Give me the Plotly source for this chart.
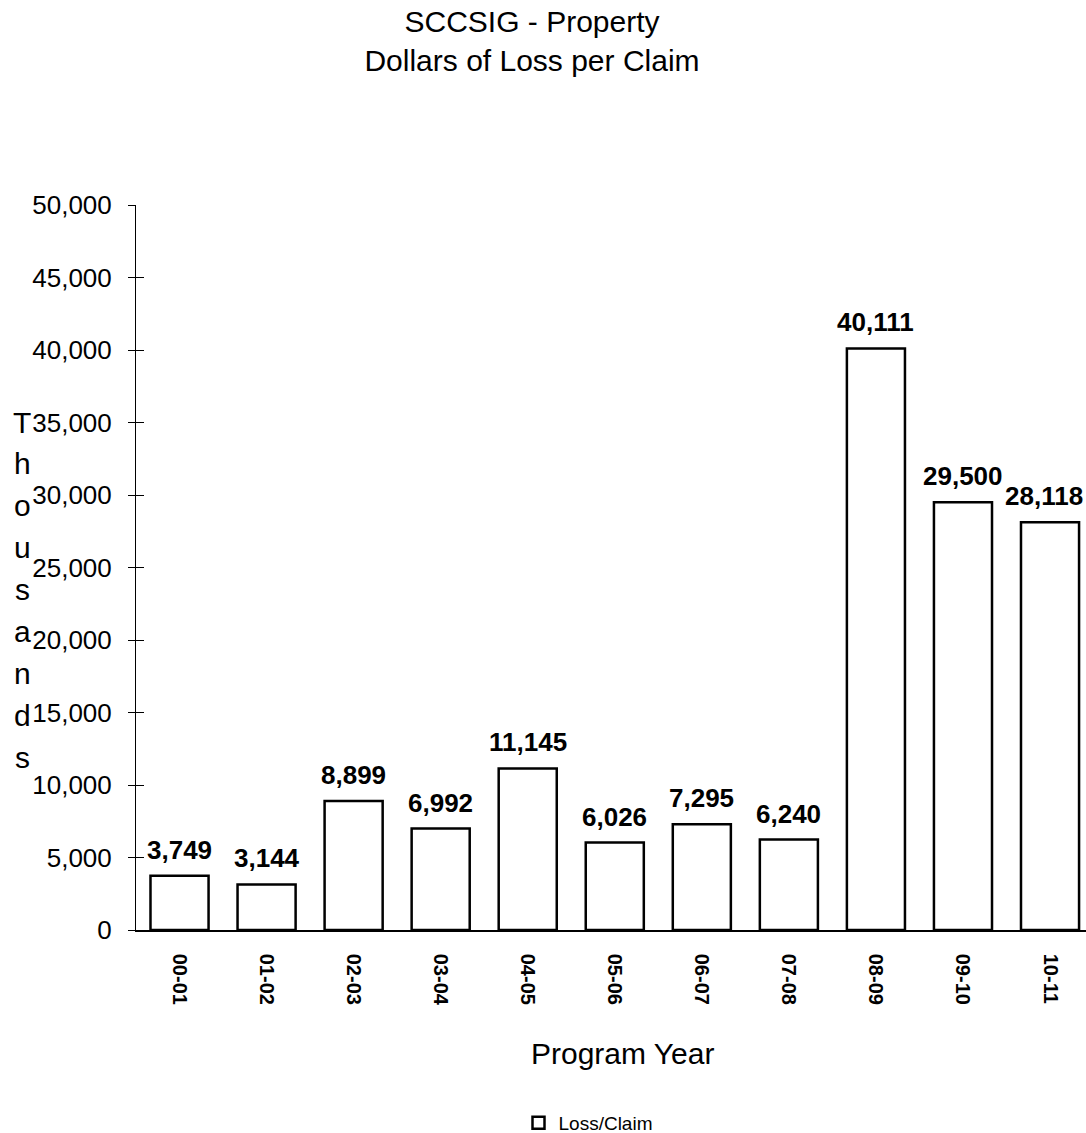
import plotly.graph_objects as go

# Program years and dollars of loss per claim
program_years = ["00-01", "01-02", "02-03", "03-04", "04-05", "05-06",
                 "06-07", "07-08", "08-09", "09-10", "10-11"]
loss_per_claim = [3749, 3144, 8899, 6992, 11145, 6026, 7295, 6240, 40111, 29500, 28118]
y_ticks = list(range(0, 50001, 5000))
axis_title_letters = list("Thousands")

FONT = "Liberation Sans, Arial, sans-serif"
W, H = 1086, 1133
L, R, T, B = 136, 0, 205, 203
plot_w = W - L - R
plot_h = H - T - B


def px_x(px):
    return (px - L) / plot_w


def px_y(py):
    return (H - B - py) / plot_h


fig = go.Figure()
fig.add_trace(go.Bar(
    x=program_years,
    y=loss_per_claim,
    name="Loss/Claim",
    marker=dict(color="white", line=dict(color="black", width=2.5)),
    showlegend=True,
    hoverinfo="x+y",
))

annotations = []
# value labels above each bar; the last one is nudged left to stay inside the page
for i, (cat, val) in enumerate(zip(program_years, loss_per_claim)):
    annotations.append(dict(
        x=cat, y=val, xref="x", yref="y",
        text=f"{val:,}", showarrow=False,
        yanchor="bottom", yshift=9,
        xshift=-6 if i == len(program_years) - 1 else 0,
        font=dict(family=FONT, size=26, color="black", weight="bold"),
    ))

# stacked vertical axis title
step = 41.9
for i, ch in enumerate(axis_title_letters):
    annotations.append(dict(
        x=px_x(22), y=px_y(422 + i * step), xref="paper", yref="paper",
        text=ch, showarrow=False, xanchor="center", yanchor="middle",
        font=dict(family=FONT, size=30, color="black"),
    ))

# x axis title
annotations.append(dict(
    x=px_x(622), y=px_y(1053), xref="paper", yref="paper",
    text="Program Year", showarrow=False, xanchor="center", yanchor="middle",
    font=dict(family=FONT, size=30, color="black"),
))

pitch = 87.05
x_max = -0.5 + plot_w / pitch

fig.update_layout(
    width=W, height=H,
    margin=dict(l=L, r=R, t=T, b=B, pad=0, autoexpand=False),
    paper_bgcolor="white", plot_bgcolor="white",
    bargap=0.333,
    title=dict(
        text="SCCSIG - Property<br>Dollars of Loss per Claim",
        x=532 / W, xref="container", xanchor="center",
        y=1 - 32 / H, yref="container", yanchor="top",
        font=dict(family=FONT, size=30, color="black"),
    ),
    xaxis=dict(
        type="category",
        range=[-0.5, x_max],
        showline=True, linecolor="black", linewidth=1.5,
        ticks="", tickangle=90, ticklabelstandoff=18,
        tickfont=dict(family=FONT, size=20, color="black", weight="bold"),
        showgrid=False, zeroline=False, automargin=False,
    ),
    yaxis=dict(
        range=[0, 50000],
        tickvals=y_ticks, ticktext=[f"{v:,}" for v in y_ticks],
        showline=True, linecolor="black", linewidth=1,
        ticks="outside", ticklen=7, tickcolor="black", tickwidth=1,
        ticklabelstandoff=11,
        tickfont=dict(family=FONT, size=26, color="black"),
        showgrid=False, zeroline=False, automargin=False,
    ),
    yaxis2=dict(
        overlaying="y", matches="y", side="left",
        tickvals=y_ticks, showticklabels=False,
        ticks="inside", ticklen=8, tickcolor="black", tickwidth=1,
        showline=False, showgrid=False, zeroline=False,
    ),
    legend=dict(
        orientation="h", x=px_x(588), xanchor="center",
        y=px_y(1123), yanchor="middle",
        font=dict(family=FONT, size=19, color="black"),
        itemwidth=30,
    ),
    annotations=annotations,
)

# invisible trace to carry the inside tick marks on the overlaid axis
fig.add_trace(go.Scatter(x=[program_years[0]], y=[0], yaxis="y2", mode="markers",
                         marker=dict(opacity=0), showlegend=False, hoverinfo="skip"))

fig.write_html("out.html")
